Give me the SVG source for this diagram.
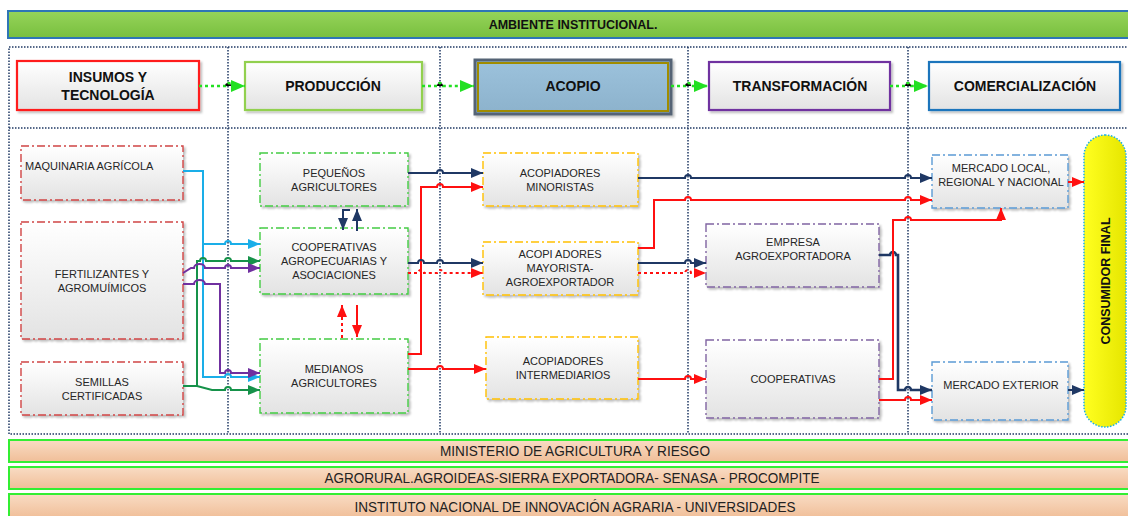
<svg xmlns="http://www.w3.org/2000/svg" width="1128" height="516" viewBox="0 0 1128 516">
<defs>
<linearGradient id="gNode" x1="0" y1="0" x2="0" y2="1"><stop offset="0" stop-color="#ffffff"/><stop offset="1" stop-color="#e3e3e3"/></linearGradient>
<linearGradient id="gHead" x1="0" y1="0" x2="0" y2="1"><stop offset="0" stop-color="#96d45a"/><stop offset="1" stop-color="#78bf3e"/></linearGradient>
<linearGradient id="gBar" x1="0" y1="0" x2="0" y2="1"><stop offset="0" stop-color="#f9dcc4"/><stop offset="1" stop-color="#f0be98"/></linearGradient>
<linearGradient id="gAco" x1="0" y1="0" x2="0" y2="1"><stop offset="0" stop-color="#9cc2dc"/><stop offset="1" stop-color="#8cb2cc"/></linearGradient>
<linearGradient id="gYel" x1="0" y1="0" x2="1" y2="0"><stop offset="0" stop-color="#ffff20"/><stop offset="1" stop-color="#e6e600"/></linearGradient>
<filter id="sh" x="-5%" y="-5%" width="115%" height="125%"><feDropShadow dx="2" dy="2" stdDeviation="1.2" flood-color="#000" flood-opacity="0.25"/></filter>
<marker id="aNavy" markerUnits="userSpaceOnUse" markerWidth="13" markerHeight="10" refX="12" refY="5" orient="auto"><path d="M0,0 L12,5 L0,10 z" fill="#1f3864"/></marker>
<marker id="aRed" markerUnits="userSpaceOnUse" markerWidth="13" markerHeight="10" refX="12" refY="5" orient="auto"><path d="M0,0 L12,5 L0,10 z" fill="#ff1010"/></marker>
<marker id="aCyan" markerUnits="userSpaceOnUse" markerWidth="13" markerHeight="10" refX="12" refY="5" orient="auto"><path d="M0,0 L12,5 L0,10 z" fill="#1aaee8"/></marker>
<marker id="aGreen" markerUnits="userSpaceOnUse" markerWidth="13" markerHeight="10" refX="12" refY="5" orient="auto"><path d="M0,0 L12,5 L0,10 z" fill="#16924a"/></marker>
<marker id="aPurple" markerUnits="userSpaceOnUse" markerWidth="13" markerHeight="10" refX="12" refY="5" orient="auto"><path d="M0,0 L12,5 L0,10 z" fill="#7030a0"/></marker>
<marker id="aLime" markerUnits="userSpaceOnUse" markerWidth="15" markerHeight="12" refX="14" refY="6" orient="auto"><path d="M0,0 L14,6 L0,12 z" fill="#22e022"/></marker>
<style>
text{font-family:"Liberation Sans",Arial,sans-serif;}
.nt{font-size:11px;fill:#262626;text-anchor:middle;}
.st{font-size:14px;font-weight:bold;fill:#111;text-anchor:middle;}
.bt{font-size:14px;fill:#222;text-anchor:middle;}
.frame{fill:none;stroke:#1f3864;stroke-width:1.5;stroke-dasharray:1.5 1.5;}
.node{fill:url(#gNode);stroke-width:1.4;stroke-dasharray:8 3 2 3;filter:url(#sh);}
.stage{fill:url(#gNode);stroke-width:2.2;filter:url(#sh);}
.bar{fill:url(#gBar);stroke:#33ee33;stroke-width:2;}
.c{fill:none;stroke-width:2;}
.navy{stroke:#1f3864;marker-end:url(#aNavy);}
.red{stroke:#ff1010;marker-end:url(#aRed);}
.dot{stroke-dasharray:3 3;}
.cyan{stroke:#1aaee8;marker-end:url(#aCyan);}
.green{stroke:#16924a;marker-end:url(#aGreen);}
.purple{stroke:#7030a0;marker-end:url(#aPurple);}
.lime{stroke:#22e022;stroke-width:2.5;stroke-dasharray:3 3;marker-end:url(#aLime);}
</style>
</defs>
<rect width="1128" height="516" fill="#ffffff"/>

<g id="ambiente">
<rect x="8" y="11" width="1124" height="27" fill="url(#gHead)" stroke="#2e75b6" stroke-width="2"/>
<text x="573" y="29" style="font-size:12.5px;font-weight:bold;fill:#111;text-anchor:middle">AMBIENTE INSTITUCIONAL.</text>
</g>

<g id="frame">
<rect x="9" y="47" width="1125" height="387" class="frame"/>
<line x1="9" y1="128" x2="1128" y2="128" class="frame"/>
<line x1="228" y1="47" x2="228" y2="434" class="frame"/>
<line x1="440" y1="47" x2="440" y2="434" class="frame"/>
<line x1="688" y1="47" x2="688" y2="434" class="frame"/>
<line x1="908" y1="47" x2="908" y2="434" class="frame"/>
</g>

<g id="stage-insumos"><rect x="17" y="61" width="182" height="49" class="stage" stroke="#ff1a1a"/><text class="st" x="108" y="82">INSUMOS Y</text><text class="st" x="108" y="100">TECNOLOGÍA</text></g>
<g id="stage-produccion"><rect x="245" y="62" width="177" height="48" class="stage" stroke="#92d050"/><text class="st" x="333" y="91">PRODUCCIÓN</text></g>
<g id="stage-acopio"><rect x="475" y="60" width="196" height="54" fill="url(#gAco)" stroke="#546474" stroke-width="3" filter="url(#sh)"/><rect x="478" y="63" width="190" height="48" fill="none" stroke="#a08c00" stroke-width="2"/><text class="st" x="573" y="91">ACOPIO</text></g>
<g id="stage-transformacion"><rect x="709" y="62" width="181" height="48" class="stage" stroke="#7030a0"/><text class="st" x="800" y="91">TRANSFORMACIÓN</text></g>
<g id="stage-comercializacion"><rect x="929" y="62" width="191" height="48" class="stage" stroke="#1a75bc"/><text class="st" x="1025" y="91">COMERCIALIZACIÓN</text></g>

<g id="n-maquinaria"><rect x="21" y="146" width="162" height="54" class="node" stroke="#d04545"/><text x="25" y="170" style="font-size:11px;fill:#262626">MAQUINARIA AGRÍCOLA</text></g>
<g id="n-fertilizantes"><rect x="21" y="222" width="162" height="117" class="node" stroke="#d04545"/><text class="nt" x="102" y="278">FERTILIZANTES Y</text><text class="nt" x="102" y="292">AGROMUÍMICOS</text></g>
<g id="n-semillas"><rect x="21" y="362" width="162" height="53" class="node" stroke="#d04545"/><text class="nt" x="102" y="386">SEMILLAS</text><text class="nt" x="102" y="400">CERTIFICADAS</text></g>

<g id="n-pequenos"><rect x="260" y="153" width="148" height="53" class="node" stroke="#44cc44"/><text class="nt" x="334" y="177">PEQUEÑOS</text><text class="nt" x="334" y="191">AGRICULTORES</text></g>
<g id="n-cooperativas-agro"><rect x="260" y="228" width="148" height="66" class="node" stroke="#44cc44"/><text class="nt" x="334" y="251">COOPERATIVAS</text><text class="nt" x="334" y="265">AGROPECUARIAS Y</text><text class="nt" x="334" y="279">ASOCIACIONES</text></g>
<g id="n-medianos"><rect x="260" y="339" width="148" height="74" class="node" stroke="#44cc44"/><text class="nt" x="334" y="373">MEDIANOS</text><text class="nt" x="334" y="387">AGRICULTORES</text></g>

<g id="n-minoristas"><rect x="483" y="153" width="155" height="53" class="node" stroke="#ffc000"/><text class="nt" x="560" y="177">ACOPIADORES</text><text class="nt" x="560" y="191">MINORISTAS</text></g>
<g id="n-mayorista"><rect x="483" y="242" width="155" height="53" class="node" stroke="#ffc000"/><text class="nt" x="560" y="258">ACOPI ADORES</text><text class="nt" x="560" y="272">MAYORISTA-</text><text class="nt" x="560" y="286">AGROEXPORTADOR</text></g>
<g id="n-intermediarios"><rect x="486" y="337" width="152" height="62" class="node" stroke="#ffc000"/><text class="nt" x="563" y="365">ACOPIADORES</text><text class="nt" x="563" y="379">INTERMEDIARIOS</text></g>

<g id="n-empresa"><rect x="706" y="224" width="173" height="63" class="node" stroke="#8064a2"/><text class="nt" x="793" y="246">EMPRESA</text><text class="nt" x="793" y="260">AGROEXPORTADORA</text></g>
<g id="n-cooperativas-trans"><rect x="706" y="340" width="173" height="78" class="node" stroke="#8064a2"/><text class="nt" x="793" y="383">COOPERATIVAS</text></g>

<g id="n-mercado-local"><rect x="932" y="155" width="136" height="53" class="node" stroke="#5b9bd5"/><text class="nt" x="1001" y="172">MERCADO LOCAL,</text><text class="nt" x="1001" y="186">REGIONAL Y NACIONAL</text></g>
<g id="n-mercado-exterior"><rect x="932" y="362" width="136" height="58" class="node" stroke="#5b9bd5"/><text class="nt" x="1001" y="389">MERCADO EXTERIOR</text></g>

<g id="n-consumidor"><rect x="1084" y="135" width="42" height="292" rx="21" ry="21" fill="url(#gYel)" stroke="#1aaee8" stroke-width="1.5" stroke-dasharray="1.5 1.5"/><text x="1110" y="281" transform="rotate(-90 1110 281)" style="font-size:12.5px;font-weight:bold;fill:#111;text-anchor:middle">CONSUMIDOR FINAL</text></g>

<g id="connectors">
<path class="lime" d="M199,86 H225 a3,3 0 0 1 6,0 H245"/>
<path class="lime" d="M422,86 H437 a3,3 0 0 1 6,0 H474"/>
<path class="lime" d="M671,86 H685 a3,3 0 0 1 6,0 H708"/>
<path class="lime" d="M890,86 H905 a3,3 0 0 1 6,0 H928"/>

<path class="c cyan" d="M183,171 H203 V377 H225 a3,3 0 0 1 6,0 H260"/>
<path class="c cyan" d="M203,244 H225 a3,3 0 0 1 6,0 H260"/>
<path class="c green" d="M183,386 H197 V261 H200 a3,3 0 0 1 6,0 H225 a3,3 0 0 1 6,0 H260"/>
<path class="c green" d="M197,386 L212,390 H225 a3,3 0 0 1 6,0 H260"/>
<path class="c purple" d="M183,273 L191,268 H194 a5.5,4 0 0 1 11,0 H225 a3,3 0 0 1 6,0 H260"/>
<path class="c purple" d="M183,284 H194 a5.5,4 0 0 1 11,0 H220 V373 H225 a3,3 0 0 1 6,0 H260"/>

<path class="c navy" d="M350,210 H343 V230"/>
<path class="c navy" d="M357,231 V209"/>
<path class="c red dot" d="M342,338 V305"/>
<path class="c red" d="M357,305 V337"/>

<path class="c navy" d="M408,173 H437 a3,3 0 0 1 6,0 H483"/>
<path class="c red" d="M408,354 H421 V187 H437 a3,3 0 0 1 6,0 H483"/>
<path class="c navy" d="M408,263 H418 a3,3 0 0 1 6,0 H437 a3,3 0 0 1 6,0 H483"/>
<path class="c red dot" d="M408,273 H418 a3,3 0 0 1 6,0 H437 a3,3 0 0 1 6,0 H483"/>
<path class="c red" d="M408,369 H437 a3,3 0 0 1 6,0 H486"/>

<path class="c navy" d="M638,178 H685 a3,3 0 0 1 6,0 H905 a3,3 0 0 1 6,0 H932"/>
<path class="c red" d="M638,248 H654 V200 H685 a3,3 0 0 1 6,0 H905 a3,3 0 0 1 6,0 H932"/>
<path class="c navy" d="M638,263 H685 a3,3 0 0 1 6,0 H706"/>
<path class="c red dot" d="M638,273 H685 a3,3 0 0 1 6,0 H706"/>
<path class="c red" d="M638,379 H685 a3,3 0 0 1 6,0 H706"/>

<path class="c navy" style="stroke-width:2.6" d="M879,255 H890 a3,3 0 0 1 6,0 H898 V390 H905 a3,3 0 0 1 6,0 H932"/>
<path class="c red" d="M879,379 H893 V220 H905 a3,3 0 0 1 6,0 H1001 V208"/>
<path class="c red" d="M879,400 H905 a3,3 0 0 1 6,0 H932"/>

<path class="c red" d="M1068,182 H1084"/>
<path class="c navy" d="M1068,390 H1084"/>
</g>

<g id="bar-ministerio"><rect x="9" y="440" width="1125" height="22" class="bar"/><text class="bt" x="575" y="456" textLength="270" lengthAdjust="spacingAndGlyphs">MINISTERIO DE AGRICULTURA Y RIESGO</text></g>
<g id="bar-agrorural"><rect x="9" y="467" width="1125" height="22" class="bar"/><text class="bt" x="572" y="483" textLength="495" lengthAdjust="spacingAndGlyphs">AGRORURAL.AGROIDEAS-SIERRA EXPORTADORA- SENASA - PROCOMPITE</text></g>
<g id="bar-inia"><rect x="9" y="494" width="1125" height="24" class="bar"/><text class="bt" x="575" y="512" textLength="441" lengthAdjust="spacingAndGlyphs">INSTITUTO NACIONAL DE INNOVACIÓN AGRARIA - UNIVERSIDADES</text></g>
</svg>
